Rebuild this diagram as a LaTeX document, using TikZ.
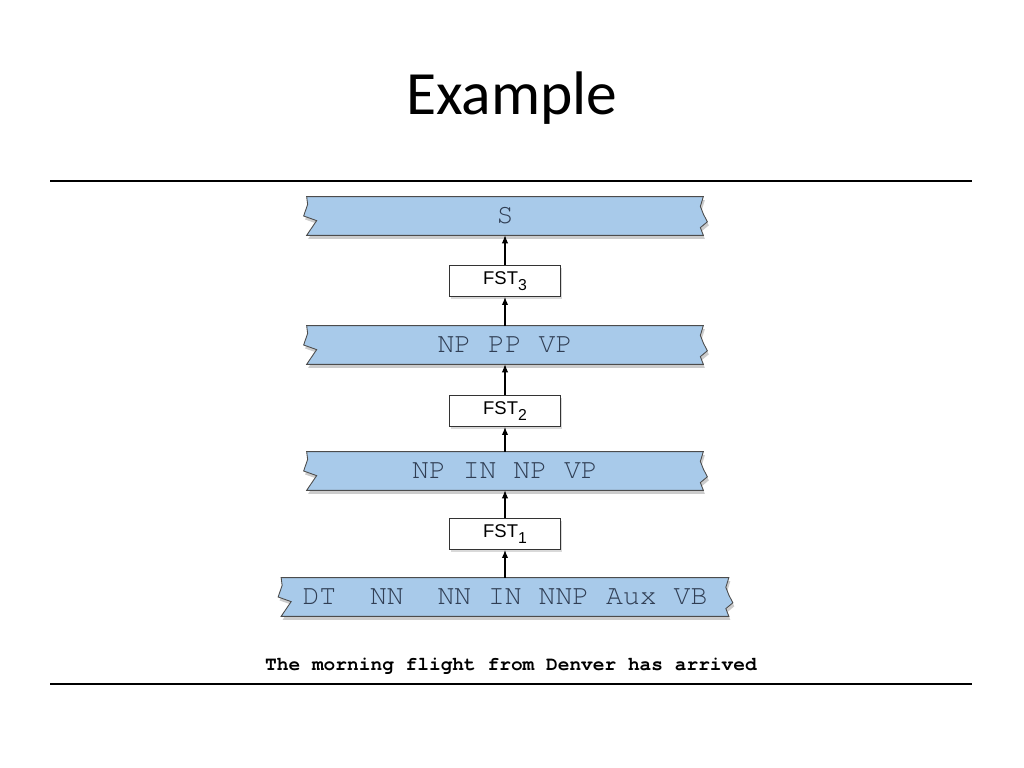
\documentclass[tikz,border=0pt]{standalone}
\usepackage{fontspec}
\setmainfont{Liberation Sans}
\newfontfamily\titlefont{Carlito}
\newfontfamily\tapefont[Ligatures=NoCommon]{TeX Gyre Cursor}
\usetikzlibrary{arrows.meta,calc,shadows,backgrounds}
\definecolor{tapeblue}{RGB}{168,202,234}
\definecolor{tapetext}{RGB}{48,62,84}
\newcommand{\sub}[1]{\raisebox{-0.55ex}{\fontsize{9}{10}\selectfont #1}}
\tikzset{tp/.style={minimum height=7.6mm, inner sep=0, text=tapetext, font=\tapefont\fontsize{16}{18}\selectfont},
  fst/.style={draw=black!80, fill=white, line width=0.6pt, minimum width=22.2mm, minimum height=6.2mm, inner sep=0,
    font=\fontsize{10.5}{12}\selectfont, drop shadow={shadow xshift=0.3mm, shadow yshift=-0.5mm, opacity=0.3}},
  up/.style={-{Latex[length=4.5pt,width=3.6pt]}, line width=0.6pt}}

\begin{document}
\begin{tikzpicture}[x=0.2mm,y=-0.2mm]
    \useasboundingbox (0,0) rectangle (1024,768);
    \node[font=\titlefont\fontsize{35}{40}\selectfont, anchor=base] (title) at (512,115) {Example};
    \coordinate (r1a) at (50,181);
    \coordinate (r1b) at (972,181);
    \coordinate (r2a) at (50,684);
    \coordinate (r2b) at (972,684);
    \draw[line width=0.6pt] (r1a) -- (r1b);
    \draw[line width=0.6pt] (r2a) -- (r2b);

    % tapes
    \node[tp, minimum width=79.2mm] (tS) at (505,216) {S};
    \node[tp, minimum width=79.2mm] (tNP) at (505,345) {NP PP VP};
    \node[tp, minimum width=79.2mm] (tIN) at (505,471) {NP IN NP VP};
    \node[tp, minimum width=89.4mm] (tPos) at (505,597) {DT~~NN~~NN IN NNP Aux VB};

    % transducers
    \node[fst] (f3) at (505,281) {FST\sub{3}};
    \node[fst] (f2) at (505,411) {FST\sub{2}};
    \node[fst] (f1) at (505,534) {FST\sub{1}};

    \node[font=\tapefont\bfseries\fontsize{11.1}{13}\selectfont, anchor=base] (sent) at (511,671)
      {The morning flight from Denver has arrived};

    \foreach \a/\b in {tPos/f1, f1/tIN, tIN/f2, f2/tNP, tNP/f3, f3/tS}
    {
      \draw[up] (\a.north) -- (\b.south);
    }

    \begin{scope}[on background layer]
    \foreach \n in {tS,tNP,tIN,tPos}
    {
      \filldraw[fill=tapeblue, draw=black!70, line width=0.5pt,
        drop shadow={shadow xshift=0.3mm, shadow yshift=-0.7mm, opacity=0.4}]
        (\n.north west) -- (\n.north east)
        -- ($(\n.north east)!0.25!(\n.south east)+(-3,0)$)
        -- ($(\n.north east)!0.45!(\n.south east)$)
        -- ($(\n.north east)!0.65!(\n.south east)+(4,0)$)
        -- ($(\n.north east)!0.8!(\n.south east)+(-3,0)$)
        -- (\n.south east) -- (\n.south west)
        -- ($(\n.north west)!0.62!(\n.south west)+(10,0)$)
        -- ($(\n.north west)!0.5!(\n.south west)+(-3,0)$)
        -- ($(\n.north west)!0.2!(\n.south west)+(1,0)$)
        -- cycle;
    }
    \end{scope}
\end{tikzpicture}
\end{document}
